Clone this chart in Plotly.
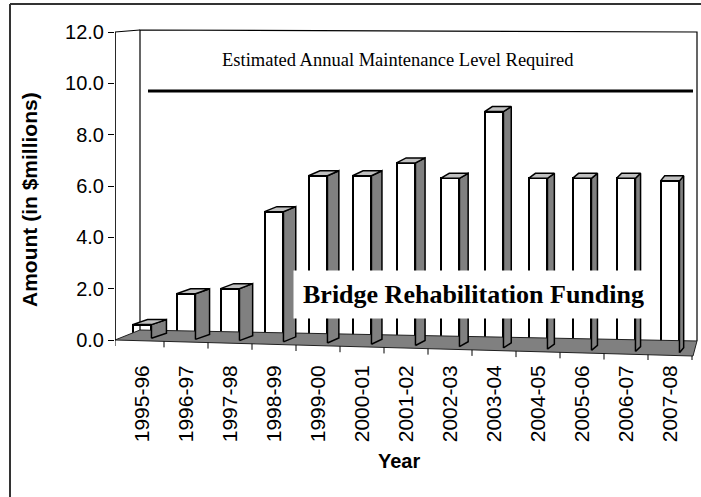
import plotly.graph_objects as go

# ---------------- data ----------------
years = ["1995-96", "1996-97", "1997-98", "1998-99", "1999-00", "2000-01", "2001-02",
         "2002-03", "2003-04", "2004-05", "2005-06", "2006-07", "2007-08"]
funding = [0.6, 1.8, 2.0, 5.0, 6.4, 6.4, 6.9, 6.3, 8.9, 6.3, 6.3, 6.3, 6.2]
maintenance_level = 9.7
y_ticks = [0, 2, 4, 6, 8, 10, 12]
y_tick_text = ["0.0", "2.0", "4.0", "6.0", "8.0", "10.0", "12.0"]

# ---------------- geometry / style ----------------
W, H = 701, 497
ML, MR, MT, MB = 115, 2, 27, 137
PX_X = 44.0          # px per category
PX_Y = 25.667        # px per unit value
X0_PX = 142          # px of first category centre
x_lo = (ML - X0_PX) / PX_X
x_hi = (W - MR - X0_PX) / PX_X
y_hi = 12 + (32 - MT) / PX_Y
y_lo = -((H - MB) - 340) / PX_Y

plot_w = W - ML - MR
plot_h = H - MT - MB


def px2paper(px, py):
    return (px - ML) / plot_w, ((H - MB) - py) / plot_h


def px2data(px, py):
    return (px - X0_PX) / PX_X, (340 - py) / PX_Y


n = len(years)
xs = list(range(n))
bar_w = 0.43

# floor corners (front-left, back-left, back-right, front-right)
fl = px2data(115, 340)
bl = px2data(140, 330)
br = px2data(697, 341)
fr = px2data(693, 356)
slope = (fr[1] - fl[1]) / (fr[0] - fl[0])


def floor_front(x):
    return fl[1] + (x - fl[0]) * slope


bases = [floor_front(i) + 0.1 for i in xs]
heights = [v - b for v, b in zip(funding, bases)]

fig = go.Figure()

# floor
fig.add_trace(go.Scatter(
    x=[fl[0], bl[0], br[0], fr[0], fl[0]],
    y=[fl[1], bl[1], br[1], fr[1], fl[1]],
    mode="lines", fill="toself", fillcolor="#808080",
    line=dict(color="#202020", width=1), hoverinfo="skip", showlegend=False))

# back wall & side wall edges
wall_top_l = px2data(140, 30)
wall_top_r = px2data(697, 32)
axis_top = px2data(115, 32)
fig.add_trace(go.Scatter(
    x=[bl[0], wall_top_l[0], wall_top_r[0], br[0], None, fl[0], axis_top[0], wall_top_l[0]],
    y=[bl[1], wall_top_l[1], wall_top_r[1], br[1], None, fl[1], axis_top[1], wall_top_l[1]],
    mode="lines", line=dict(color="#000000", width=1.2), hoverinfo="skip", showlegend=False))

# maintenance line
ml_l = px2data(148, 0)[0]
ml_r = px2data(693, 0)[0]
fig.add_trace(go.Scatter(
    x=[ml_l, ml_r], y=[maintenance_level, maintenance_level], mode="lines",
    line=dict(color="#000000", width=3), hoverinfo="skip", showlegend=False))

# x tick marks along the floor front edge
tx, ty = [], []
for i in range(n):
    b = i + 0.5
    tx += [b, b, None]
    ty += [floor_front(b), floor_front(b) - 6 / PX_Y, None]
tx += [fl[0], fl[0], None]
ty += [fl[1], fl[1] - 6 / PX_Y, None]
fig.add_trace(go.Scatter(x=tx, y=ty, mode="lines", line=dict(color="#000000", width=1),
                         hoverinfo="skip", showlegend=False))

# 3D side and top faces
for i, (v, b) in enumerate(zip(funding, bases)):
    dx = (15 - i * 0.9) / PX_X
    dy = 5 / PX_Y
    xl, xr = i - bar_w / 2, i + bar_w / 2
    fig.add_trace(go.Scatter(
        x=[xr, xr + dx, xr + dx, xr, xr], y=[b, b + dy, v + dy, v, b],
        mode="lines", fill="toself", fillcolor="#808080",
        line=dict(color="#000000", width=1.5), hoverinfo="skip", showlegend=False))
    fig.add_trace(go.Scatter(
        x=[xl, xl + dx, xr + dx, xr, xl], y=[v, v + dy, v + dy, v, v],
        mode="lines", fill="toself", fillcolor="#c0c0c0",
        line=dict(color="#000000", width=1.5), hoverinfo="skip", showlegend=False))

# front faces
fig.add_trace(go.Bar(
    x=xs, y=heights, base=bases, width=bar_w,
    marker=dict(color="#ffffff", line=dict(color="#000000", width=2)),
    showlegend=False, hoverinfo="skip"))

# y axis line
fig.add_trace(go.Scatter(x=[fl[0], axis_top[0]], y=[0, 12], mode="lines",
                         line=dict(color="#000000", width=1.2), hoverinfo="skip", showlegend=False))

# frame (top and left edges only)
fx0, fy0 = px2paper(10, 4)
fx1, fy1 = px2paper(701, 497)
fig.add_shape(type="line", xref="paper", yref="paper", x0=fx0, y0=fy0, x1=fx1, y1=fy0,
              line=dict(color="#333333", width=2))
fig.add_shape(type="line", xref="paper", yref="paper", x0=fx0, y0=fy0, x1=fx0, y1=fy1,
              line=dict(color="#333333", width=2))

# texts
ex, ey = px2data(398, 60)
fig.add_annotation(x=ex, y=ey, xref="x", yref="y", xanchor="center", yanchor="middle",
                   text="Estimated Annual Maintenance Level Required",
                   showarrow=False, font=dict(family="Liberation Serif, Times New Roman", size=18.5, color="#000"))
bx, by = px2data(473, 294)
fig.add_annotation(x=bx, y=by, xref="x", yref="y", xanchor="center", yanchor="middle",
                   text="<b>Bridge Rehabilitation Funding</b>",
                   showarrow=False, bgcolor="#ffffff", borderpad=9,
                   font=dict(family="Liberation Serif, Times New Roman", size=26, color="#000"))
ax_, ay_ = px2paper(30, 200)
fig.add_annotation(x=ax_, y=ay_, xref="paper", yref="paper", xanchor="center", yanchor="middle",
                   text="<b>Amount (in $millions)</b>",
                   textangle=-90, showarrow=False,
                   font=dict(family="Liberation Sans, Arial", size=21, color="#000"))
yx_, yy_ = px2paper(399, 461)
fig.add_annotation(x=yx_, y=yy_, xref="paper", yref="paper", xanchor="center", yanchor="middle",
                   text="<b>Year</b>",
                   showarrow=False, font=dict(family="Liberation Sans, Arial", size=20, color="#000"))

fig.update_layout(
    width=W, height=H, margin=dict(l=ML, r=MR, t=MT, b=MB, autoexpand=False),
    paper_bgcolor="#ffffff", plot_bgcolor="rgba(0,0,0,0)",
    bargap=0, showlegend=False,
    font=dict(family="Liberation Sans, Arial", color="#000"),
    xaxis=dict(range=[x_lo, x_hi], tickvals=xs, ticktext=years, tickangle=-90,
               ticks="", showgrid=False, zeroline=False, showline=False,
               tickfont=dict(size=21), automargin=False),
    yaxis=dict(range=[y_lo, y_hi], tickvals=y_ticks, ticktext=y_tick_text,
               ticks="outside", ticklen=6, tickcolor="#000", tickwidth=1,
               showgrid=False, zeroline=False, showline=False,
               tickfont=dict(size=20), automargin=False),
)

fig.write_html("out.html", config={"displayModeBar": False},
               post_script="document.body.style.margin='0';document.body.style.overflow='hidden';")
